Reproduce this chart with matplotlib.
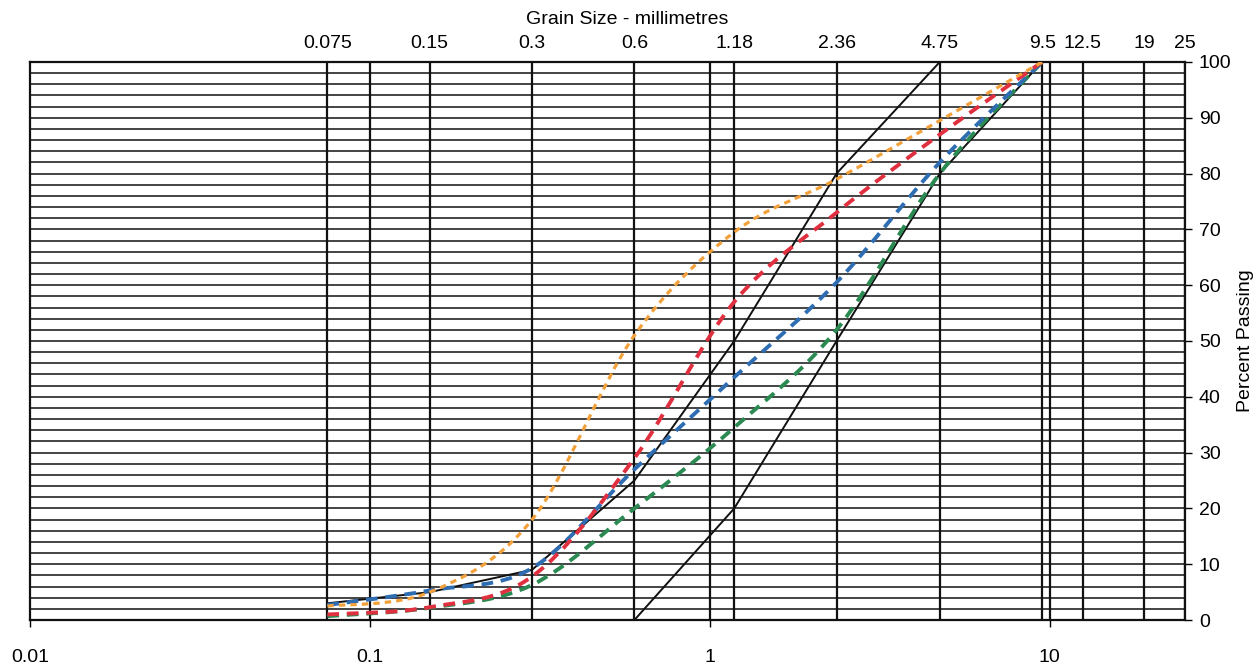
import matplotlib.pyplot as plt
import numpy as np
from matplotlib.path import Path
from matplotlib.patches import PathPatch

plt.rcParams['font.family'] = ['Liberation Sans', 'DejaVu Sans']

# sieve sizes (mm)
sieves = [0.075, 0.15, 0.3, 0.6, 1.18, 2.36, 4.75, 9.5]
sieve_labels = ["0.075", "0.15", "0.3", "0.6", "1.18", "2.36", "4.75", "9.5", "12.5", "19", "25"]
top_ticks = [0.075, 0.15, 0.3, 0.6, 1.18, 2.36, 4.75, 9.5, 12.5, 19, 25]

# grading envelope
upper_x = [0.075, 0.15, 0.3, 0.6, 1.18, 2.36, 4.75]
upper_y = [3, 5, 9, 25, 50, 80, 100]
lower_x = [0.6, 1.18, 2.36, 4.75, 9.5]
lower_y = [0, 20, 50, 80, 100]

# percent passing for each sample
orange = [2.5, 5, 18, 51, 69.5, 79, 89.5, 100]
red = [1, 2.3, 7.8, 29, 57, 73, 87, 100]
blue = [2.7, 5.3, 9.3, 27, 43.5, 60.5, 82, 100]
green = [0.7, 2.2, 6.3, 20, 34.5, 52, 80, 100]


def smooth_line(ax, xs, ys, **kw):
    # spreadsheet-style smoothed line: bezier segments through the points,
    # built in log-x space so it bends the same way on screen
    p = np.column_stack([np.log10(xs), ys])
    n = len(p)
    verts = [p[0]]
    codes = [Path.MOVETO]
    for i in range(n - 1):
        p0 = p[i - 1] if i > 0 else p[i]
        p3 = p[i + 2] if i + 2 < n else p[i + 1]
        c1 = p[i] + (p[i + 1] - p0) / 6
        c2 = p[i + 1] - (p3 - p[i]) / 6
        verts += [c1, c2, p[i + 1]]
        codes += [Path.CURVE4] * 3
    verts = np.array(verts)
    verts[:, 0] = 10 ** verts[:, 0]
    ax.add_patch(PathPatch(Path(verts, codes), fill=False, capstyle='butt', **kw))


fig = plt.figure(figsize=(12.59, 6.66), dpi=100)
ax = fig.add_axes([0.0238, 0.069, 0.9174, 0.838])
ax.set_xscale('log')
ax.set_xlim(0.01, 25)
ax.set_ylim(0, 100)

# chart paper grid
ax.hlines(np.arange(0, 101, 2), 0.01, 25, colors='#111111', lw=1.1, zorder=1)
ax.vlines(top_ticks + [0.1, 1, 10], 0, 100, colors='#111111', lw=1.6, zorder=1)

ax.plot(upper_x, upper_y, color='#111111', lw=1.4, zorder=2)
ax.plot(lower_x, lower_y, color='#111111', lw=1.4, zorder=2)

smooth_line(ax, sieves, green, edgecolor='#2b8a52', lw=2.8, linestyle=(0, (3, 2)), zorder=3)
smooth_line(ax, sieves, blue, edgecolor='#2f6db3', lw=2.8, linestyle=(0, (3, 2)), zorder=3)
smooth_line(ax, sieves, red, edgecolor='#e03040', lw=2.8, linestyle=(0, (3, 2)), zorder=4)
smooth_line(ax, sieves, orange, edgecolor='#f2a03a', lw=2.3, linestyle=(0, (2, 1.6)), zorder=5)

for s in ax.spines.values():
    s.set_linewidth(1.6)
    s.set_color('#111111')

ax.set_xticks([0.01, 0.1, 1, 10])
ax.set_xticklabels(["0.01", "0.1", "1", "10"])
ax.xaxis.set_minor_locator(plt.NullLocator())
ax.tick_params(axis='x', direction='out', length=5, width=1, labelsize=14, pad=16)

ax.yaxis.tick_right()
ax.yaxis.set_label_position('right')
ax.set_yticks(range(0, 101, 10))
ax.tick_params(axis='y', direction='out', length=5, width=1, labelsize=14, pad=5)
ax.set_ylabel("Percent Passing", fontsize=14, labelpad=4)

top = ax.secondary_xaxis('top')
top.set_xticks(top_ticks)
top.set_xticklabels(sieve_labels)
top.xaxis.set_minor_locator(plt.NullLocator())
top.tick_params(length=0, labelsize=14, pad=7)
top.spines['top'].set_visible(False)

fig.text(0.498, 0.971, "Grain Size - millimetres", ha='center', va='center', fontsize=14)

fig.savefig("out.png", dpi=100, facecolor='white')
